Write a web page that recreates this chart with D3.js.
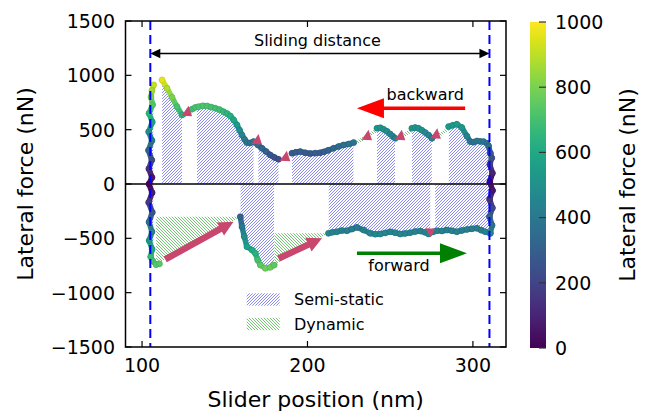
<!DOCTYPE html>
<html>
<head>
<meta charset="utf-8">
<script src="https://cdn.jsdelivr.net/npm/d3@7"></script>
<style>
body { margin: 0; background: #fff; }
text { font-family: "DejaVu Sans", sans-serif; fill: #000; }
</style>
</head>
<body>
<script>
const width = 646;
const height = 413;

// ---- data (x in nm, lateral force in nN) ----
const xTicks = [100, 200, 300];
const yTicks = [-1500, -1000, -500, 0, 500, 1000, 1500];
const cbTicks = [0, 200, 400, 600, 800, 1000];
const turnPoints = [105, 310]; // dashed lines, ends of sliding distance

// left turning point (top to bottom)
const leftTurn = [[107, 912], [106, 860], [105.4, 800], [106.4, 730], [104.2, 650], [106.2, 570], [104, 480],
  [106, 400], [103.9, 310], [105.9, 220], [104.1, 140], [106, 60], [104.2, 0], [106.1, -80],
  [104, -170], [106.2, -260], [104.2, -350], [106, -440], [104.3, -520], [106.1, -600],
  [105.2, -670], [106.5, -710], [108.5, -742], [110.5, -735]];
// right turning point (bottom to top)
const rightTurn = [[310.5, -454], [311.6, -380], [310, -300], [311.8, -220], [310.1, -140], [311.9, -60],
  [310.2, 20], [311.8, 100], [310.2, 180], [311.4, 240], [310.5, 283]];

// backward stroke (upper branch), stick pieces
const backwardSegs = [
  [[112.1, 958], [115.1, 881], [118.1, 798], [121.1, 712], [124.2, 636]],
  [[130.2, 688], [132.2, 705], [134.2, 712], [136.8, 720], [139.3, 718], [141.8, 708], [144.3, 697],
   [146.8, 685], [149.3, 666], [151.4, 648], [153.4, 626], [155.4, 590], [157.4, 543], [159, 495],
   [160.4, 451], [162, 410], [163.4, 381], [165.4, 378], [167.4, 390], [170, 360], [172.5, 329],
   [175, 298], [177.5, 267], [180, 245], [182.5, 227]],
  [[190.6, 283], [193, 292], [195.6, 298], [198.6, 288], [201.7, 280], [204.7, 284], [207.7, 288],
   [210, 296], [212.5, 310], [215.8, 329], [218.8, 345], [221.8, 359], [225, 368], [227.9, 381]],
  [[242, 513], [244, 518], [246, 503], [248, 485], [250, 460], [251.5, 440], [253, 421]],
  [[263.1, 513], [265.1, 520], [267.1, 513], [269.1, 495], [271.2, 473], [273.2, 450], [275.2, 421]],
  [[285.3, 528], [287.8, 540], [290.3, 550], [293.3, 520], [296.4, 440], [298.4, 390], [300.4, 385],
   [302.4, 396], [304.4, 392], [306.4, 390], [308.5, 375], [309.5, 350], [310.5, 283]]
];
// forward stroke (lower branch), stick pieces
const forwardSegs = [
  [[159.4, -301], [160.4, -393], [161.8, -485], [163.4, -577], [166.5, -608], [168.5, -638],
   [169.9, -700], [171.5, -746], [174.5, -776], [177.5, -767], [179.9, -746]],
  [[212.7, -454], [215, -445], [217.8, -439], [220.8, -428], [223.9, -430], [226.9, -415],
   [229.9, -399], [233.9, -424], [237.9, -454], [241, -462], [244, -460], [247, -450], [250, -439],
   [253, -448], [256, -460], [259, -455], [262.1, -448], [265.1, -438], [268.2, -433], [271, -445],
   [273.2, -460], [276, -440], [278.2, -430], [281.3, -432], [284.3, -424], [287.3, -430],
   [290.3, -439], [293.3, -428], [296.4, -418], [299.4, -412], [302.4, -408], [305, -425],
   [307.4, -439], [310.5, -454]]
];

// semi-static (stick) intervals
const backwardBlocks = [[112.1, 124.2], [133.2, 167.4], [170.3, 183.6], [190.6, 227.9], [242, 253], [263.1, 275.2], [285.3, 309.2]];
const forwardBlocks = [[159.4, 179.9], [212.7, 274.2], [277.2, 310.5]];
const turnBlock = [104.5, 106.8, -700, 870];

// dynamic (slip) events: [x start, F start, x end, F end]
const forwardSlips = [[108.5, -740, 159.4, -301], [179.9, -746, 212.7, -454]];
const backwardSlips = [[130.2, 688, 124.2, 636], [242, 513, 227.9, 381], [263.1, 513, 253, 421], [285.3, 528, 275.2, 421]];

// slip markers and arrows
const backwardMarks = [[127.2, 666], [169.5, 405], [186.6, 251], [236, 445], [256.1, 445], [277.6, 458]];
const forwardMarks = [[274.2, -439]];
const slipArrows = [[114, -694, 155.3, -347], [182.5, -685, 208.8, -500]];

// ---- layout ----
const plotL = 125.5, plotR = 506, plotT = 21, plotB = 347;
const x = d3.scaleLinear().domain([90, 320]).range([plotL, plotR]);
const y = d3.scaleLinear().domain([-1500, 1500]).range([plotB, plotT]);
const color = d3.scaleSequential(d3.interpolateViridis).domain([0, 1000]);
const pink = "#c9476f";

const svg = d3.select("body").append("svg")
  .attr("width", width)
  .attr("height", height);

const defs = svg.append("defs");

function hatch(id, d, col) {
  defs.append("pattern")
    .attr("id", id)
    .attr("patternUnits", "userSpaceOnUse")
    .attr("width", 3).attr("height", 3)
    .append("path")
    .attr("d", d)
    .style("fill", "none")
    .style("stroke", col)
    .style("stroke-width", 0.9);
}
hatch("semiHatch", "M-0.75,0.75 l1.5,-1.5 M0,3 l3,-3 M2.25,3.75 l1.5,-1.5", "#7c7cf6");
hatch("dynHatch", "M-0.75,2.25 l1.5,1.5 M0,0 l3,3 M2.25,-0.75 l1.5,1.5", "#66bb66");

defs.append("clipPath").attr("id", "plotClip")
  .append("rect")
  .attr("x", plotL).attr("y", plotT)
  .attr("width", plotR - plotL).attr("height", plotB - plotT);

function blockClip(id, blocks) {
  defs.append("clipPath").attr("id", id)
    .selectAll("rect")
    .data(blocks)
    .enter()
    .append("rect")
    .attr("x", d => x(d[0]))
    .attr("y", plotT)
    .attr("width", d => x(d[1]) - x(d[0]))
    .attr("height", plotB - plotT);
}
blockClip("bwClip", backwardBlocks);
blockClip("fwClip", forwardBlocks);

const grad = defs.append("linearGradient")
  .attr("id", "viridis")
  .attr("x1", 0).attr("y1", 1).attr("x2", 0).attr("y2", 0);
d3.range(0, 1.0001, 0.05).forEach(t => {
  grad.append("stop").attr("offset", t).attr("stop-color", d3.interpolateViridis(t));
});

const plot = svg.append("g").attr("clip-path", "url(#plotClip)");

// semi-static hatches
const area = d3.area()
  .x(d => x(d[0]))
  .y0(y(0))
  .y1(d => y(d[1]));

plot.append("g")
  .attr("clip-path", "url(#bwClip)")
  .selectAll("path")
  .data(backwardSegs)
  .enter()
  .append("path")
  .attr("d", area)
  .style("fill", "url(#semiHatch)");

plot.append("g")
  .attr("clip-path", "url(#fwClip)")
  .selectAll("path")
  .data(forwardSegs)
  .enter()
  .append("path")
  .attr("d", area)
  .style("fill", "url(#semiHatch)");

plot.append("rect")
  .attr("x", x(turnBlock[0]))
  .attr("y", y(turnBlock[3]))
  .attr("width", x(turnBlock[1]) - x(turnBlock[0]))
  .attr("height", y(turnBlock[2]) - y(turnBlock[3]))
  .style("fill", "url(#semiHatch)");

// dynamic hatches
plot.selectAll(".fslip")
  .data(forwardSlips)
  .enter()
  .append("path")
  .attr("class", "fslip")
  .attr("d", d => "M" + [x(d[0]), y(d[1])] + "L" + [x(d[2]), y(d[3])] + "L" + [x(d[0]), y(d[3])] + "Z")
  .style("fill", "url(#dynHatch)");

plot.selectAll(".bslip")
  .data(backwardSlips)
  .enter()
  .append("path")
  .attr("class", "bslip")
  .attr("d", d => "M" + [x(d[0]), y(d[1])] + "L" + [x(d[2]), y(d[3])] +
    "L" + [x(d[2]), y(d[3]) + 4] + "L" + [x(d[0]), y(d[1]) + 4] + "Z")
  .style("fill", "url(#dynHatch)");

// zero line
plot.append("line")
  .attr("x1", plotL).attr("x2", plotR)
  .attr("y1", y(0)).attr("y2", y(0))
  .attr("stroke", "#000")
  .attr("stroke-width", 1.3);

// force curve, coloured by |F|
const allSegs = [leftTurn, rightTurn].concat(backwardSegs, forwardSegs);
allSegs.forEach(seg => {
  const pairs = d3.pairs(seg);
  plot.append("g")
    .selectAll("line")
    .data(pairs)
    .enter()
    .append("line")
    .attr("x1", d => x(d[0][0])).attr("y1", d => y(d[0][1]))
    .attr("x2", d => x(d[1][0])).attr("y2", d => y(d[1][1]))
    .attr("stroke", d => color((Math.abs(d[0][1]) + Math.abs(d[1][1])) / 2))
    .attr("stroke-width", 5.5)
    .attr("stroke-linecap", "round");
  plot.append("g")
    .selectAll("circle")
    .data(seg)
    .enter()
    .append("circle")
    .attr("cx", d => x(d[0]))
    .attr("cy", d => y(d[1]))
    .attr("r", 3)
    .attr("fill", d => color(Math.abs(d[1])))
    .attr("stroke", d => d3.color(color(Math.abs(d[1]))).darker(0.4))
    .attr("stroke-width", 0.6);
});

// small slip markers
plot.selectAll(".bmark")
  .data(backwardMarks)
  .enter()
  .append("path")
  .attr("class", "bmark")
  .attr("d", d => {
    const cx = x(d[0]), cy = y(d[1]);
    return "M" + [cx - 5.5, cy + 4] + "L" + [cx + 1.5, cy - 6] + "L" + [cx + 5, cy + 4.5] + "Z";
  })
  .attr("fill", pink);

plot.selectAll(".fmark")
  .data(forwardMarks)
  .enter()
  .append("path")
  .attr("class", "fmark")
  .attr("d", d => {
    const cx = x(d[0]), cy = y(d[1]);
    return "M" + [cx - 5, cy - 3.5] + "L" + [cx + 5, cy - 3] + "L" + [cx + 0.5, cy + 5.5] + "Z";
  })
  .attr("fill", pink);

function arrowPoly(x0, y0, x1, y1, sw, hw, hl) {
  const dx = x1 - x0, dy = y1 - y0, len = Math.hypot(dx, dy);
  const ux = dx / len, uy = dy / len, px = -uy, py = ux;
  const bx = x1 - ux * hl, by = y1 - uy * hl;
  const pts = [
    [x0 + px * sw / 2, y0 + py * sw / 2],
    [bx + px * sw / 2, by + py * sw / 2],
    [bx + px * hw / 2, by + py * hw / 2],
    [x1, y1],
    [bx - px * hw / 2, by - py * hw / 2],
    [bx - px * sw / 2, by - py * sw / 2],
    [x0 - px * sw / 2, y0 - py * sw / 2]
  ];
  return "M" + pts.join("L") + "Z";
}

plot.selectAll(".slipArrow")
  .data(slipArrows)
  .enter()
  .append("path")
  .attr("class", "slipArrow")
  .attr("d", d => arrowPoly(x(d[0]), y(d[1]), x(d[2]), y(d[3]), 6.5, 15, 15))
  .attr("fill", pink);

// dashed turning lines
plot.selectAll(".turn")
  .data(turnPoints)
  .enter()
  .append("line")
  .attr("class", "turn")
  .attr("x1", d => x(d)).attr("x2", d => x(d))
  .attr("y1", plotT).attr("y2", plotB)
  .attr("stroke", "#0000ff")
  .attr("stroke-width", 2)
  .attr("stroke-dasharray", "9,5");

// sliding distance
const sdY = y(1200);
svg.append("line")
  .attr("x1", x(turnPoints[0]) + 8).attr("x2", x(turnPoints[1]) - 8)
  .attr("y1", sdY).attr("y2", sdY)
  .attr("stroke", "#000").attr("stroke-width", 1.5);
svg.append("path")
  .attr("d", arrowPoly(x(turnPoints[0]) + 10, sdY, x(turnPoints[0]), sdY, 0, 9.5, 10))
  .attr("fill", "#000");
svg.append("path")
  .attr("d", arrowPoly(x(turnPoints[1]) - 10, sdY, x(turnPoints[1]), sdY, 0, 9.5, 10))
  .attr("fill", "#000");
svg.append("text")
  .attr("x", x(206)).attr("y", y(1271))
  .attr("text-anchor", "middle")
  .style("font-size", "16px")
  .text("Sliding distance");

// direction arrows
svg.append("path")
  .attr("d", arrowPoly(x(295.3), y(697), x(229.9), y(697), 3.5, 20, 27))
  .attr("fill", "#ff0000");
svg.append("text")
  .attr("x", x(271.2)).attr("y", y(775))
  .attr("text-anchor", "middle")
  .style("font-size", "16px")
  .text("backward");

svg.append("path")
  .attr("d", arrowPoly(x(229.9), y(-638), x(296.4), y(-638), 3.5, 20, 27))
  .attr("fill", "#008000");
svg.append("text")
  .attr("x", x(255.3)).attr("y", y(-798))
  .attr("text-anchor", "middle")
  .style("font-size", "16px")
  .text("forward");

// legend
const legend = svg.append("g");
[["Semi-static", "url(#semiHatch)"], ["Dynamic", "url(#dynHatch)"]].forEach((item, i) => {
  legend.append("rect")
    .attr("x", 246.7).attr("y", 293.3 + i * 24.5)
    .attr("width", 33).attr("height", 12.4)
    .style("fill", item[1]);
  legend.append("text")
    .attr("x", 294).attr("y", 305.3 + i * 24.5)
    .style("font-size", "16px")
    .text(item[0]);
});

// frame and ticks (inward on all four sides)
const ticks = svg.append("g").attr("stroke", "#000").attr("stroke-width", 1.2);
xTicks.forEach(t => {
  ticks.append("line").attr("x1", x(t)).attr("x2", x(t)).attr("y1", plotB).attr("y2", plotB - 6);
  ticks.append("line").attr("x1", x(t)).attr("x2", x(t)).attr("y1", plotT).attr("y2", plotT + 6);
});
yTicks.forEach(t => {
  ticks.append("line").attr("x1", plotL).attr("x2", plotL + 6).attr("y1", y(t)).attr("y2", y(t));
  ticks.append("line").attr("x1", plotR).attr("x2", plotR - 6).attr("y1", y(t)).attr("y2", y(t));
});

svg.append("rect")
  .attr("x", plotL).attr("y", plotT)
  .attr("width", plotR - plotL).attr("height", plotB - plotT)
  .attr("fill", "none")
  .attr("stroke", "#000")
  .attr("stroke-width", 1.5);

const fmt = d3.format("d");
svg.append("g")
  .selectAll("text")
  .data(xTicks)
  .enter()
  .append("text")
  .attr("x", d => x(d))
  .attr("y", 372)
  .attr("text-anchor", "middle")
  .style("font-size", "19px")
  .text(fmt);

svg.append("g")
  .selectAll("text")
  .data(yTicks)
  .enter()
  .append("text")
  .attr("x", 115)
  .attr("y", d => y(d))
  .attr("dy", "0.36em")
  .attr("text-anchor", "end")
  .style("font-size", "19px")
  .text(fmt);

svg.append("text")
  .attr("x", (plotL + plotR) / 2)
  .attr("y", 407)
  .attr("text-anchor", "middle")
  .style("font-size", "22px")
  .text("Slider position (nm)");

svg.append("text")
  .attr("transform", "translate(33," + (plotT + plotB) / 2 + ") rotate(-90)")
  .attr("text-anchor", "middle")
  .style("font-size", "22px")
  .text("Lateral force (nN)");

// colorbar
const cbY = d3.scaleLinear().domain([0, 1000]).range([348, 22]);
svg.append("rect")
  .attr("x", 530).attr("y", 22)
  .attr("width", 16).attr("height", 326)
  .attr("fill", "url(#viridis)");

svg.append("g")
  .selectAll("line")
  .data(cbTicks)
  .enter()
  .append("line")
  .attr("x1", 539).attr("x2", 546)
  .attr("y1", d => cbY(d)).attr("y2", d => cbY(d))
  .attr("stroke", "#333")
  .attr("stroke-width", 1.2);

svg.append("g")
  .selectAll("text")
  .data(cbTicks)
  .enter()
  .append("text")
  .attr("x", 555)
  .attr("y", d => cbY(d))
  .attr("dy", "0.36em")
  .style("font-size", "19px")
  .text(fmt);

svg.append("text")
  .attr("transform", "translate(635," + (22 + 348) / 2 + ") rotate(-90)")
  .attr("text-anchor", "middle")
  .style("font-size", "22px")
  .text("Lateral force (nN)");
</script>
</body>
</html>
